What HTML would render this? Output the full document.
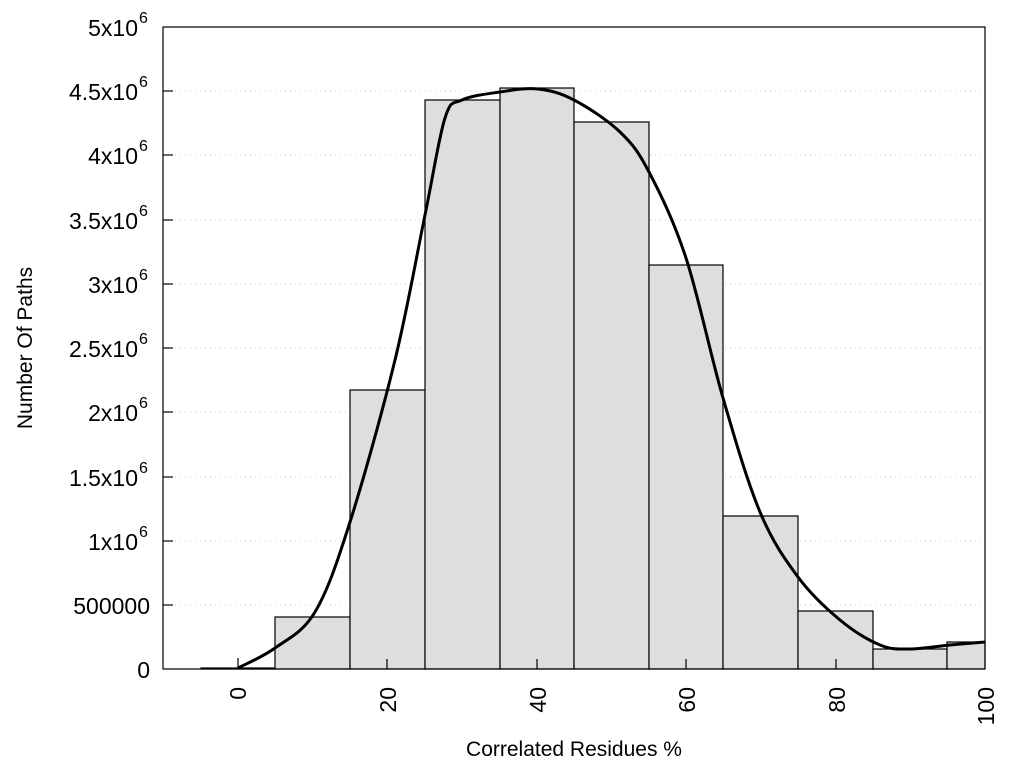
<!DOCTYPE html>
<html><head><meta charset="utf-8"><style>
body{margin:0;background:#fff;}
svg{display:block;font-family:"Liberation Sans",sans-serif;}
</style></head><body>
<svg id="s" width="1024" height="768" viewBox="0 0 1024 768">
<g stroke="#c8c8c8" stroke-dasharray="1,4" stroke-width="1">
<line x1="175" y1="605" x2="985" y2="605"/><line x1="175" y1="541" x2="985" y2="541"/>
<line x1="175" y1="477" x2="985" y2="477"/><line x1="175" y1="412" x2="985" y2="412"/>
<line x1="175" y1="348" x2="985" y2="348"/><line x1="175" y1="284" x2="985" y2="284"/>
<line x1="175" y1="220" x2="985" y2="220"/><line x1="175" y1="155" x2="985" y2="155"/>
<line x1="175" y1="91" x2="985" y2="91"/>
</g>
<g fill="#dedede" stroke="#000" stroke-width="1.2">
<rect x="201" y="668" width="74" height="1"/>
<rect x="275" y="617" width="75" height="52"/>
<rect x="350" y="390" width="75" height="279"/>
<rect x="425" y="100" width="75" height="569"/>
<rect x="500" y="88" width="74" height="581"/>
<rect x="574" y="122" width="75" height="547"/>
<rect x="649" y="265" width="74" height="404"/>
<rect x="723" y="516" width="75" height="153"/>
<rect x="798" y="611" width="75" height="58"/>
<rect x="873" y="649" width="74" height="20"/>
<rect x="947" y="642" width="38" height="27"/>
</g>
<path id="c" fill="none" stroke="#000" stroke-width="3" d=""/>
<rect x="163" y="27" width="822" height="642" fill="none" stroke="#000" stroke-width="1.2"/>
<g stroke="#000" stroke-width="1.2">
<line x1="163" y1="605" x2="173" y2="605"/><line x1="163" y1="541" x2="173" y2="541"/>
<line x1="163" y1="477" x2="173" y2="477"/><line x1="163" y1="412" x2="173" y2="412"/>
<line x1="163" y1="348" x2="173" y2="348"/><line x1="163" y1="284" x2="173" y2="284"/>
<line x1="163" y1="220" x2="173" y2="220"/><line x1="163" y1="155" x2="173" y2="155"/>
<line x1="163" y1="91" x2="173" y2="91"/>
<line x1="238" y1="669" x2="238" y2="658"/><line x1="387" y1="669" x2="387" y2="659"/>
<line x1="537" y1="669" x2="537" y2="659"/><line x1="686" y1="669" x2="686" y2="659"/>
<line x1="836" y1="669" x2="836" y2="659"/>
</g>
<g font-size="23" text-anchor="end" fill="#000">
<text x="150" y="678">0</text>
<text x="150" y="614">500000</text>
<text x="138" y="550">1x10</text><text x="138" y="486">1.5x10</text>
<text x="138" y="421">2x10</text><text x="138" y="357">2.5x10</text>
<text x="138" y="293">3x10</text><text x="138" y="229">3.5x10</text>
<text x="138" y="164">4x10</text><text x="138" y="100">4.5x10</text>
<text x="138" y="36">5x10</text>
</g>
<g font-size="16" fill="#000">
<text x="139" y="537">6</text><text x="139" y="473">6</text><text x="139" y="408">6</text>
<text x="139" y="344">6</text><text x="139" y="280">6</text><text x="139" y="216">6</text>
<text x="139" y="151">6</text><text x="139" y="87">6</text><text x="139" y="23">6</text>
</g>
<g font-size="23" text-anchor="end" fill="#000">
<text transform="translate(246,687) rotate(-90)">0</text>
<text transform="translate(396,687) rotate(-90)">20</text>
<text transform="translate(546,687) rotate(-90)">40</text>
<text transform="translate(695,687) rotate(-90)">60</text>
<text transform="translate(845,687) rotate(-90)">80</text>
<text transform="translate(994,687) rotate(-90)">100</text>
</g>
<text x="574" y="756" font-size="21" text-anchor="middle">Correlated Residues %</text>
<text transform="translate(32,348) rotate(-90)" font-size="21" text-anchor="middle">Number Of Paths</text>
</svg>
<script>
var p=[[238,668],[275,648],[315,612],[350,522],[395,360],[425,215],[445,118],[462,100],[500,92],[538,89],[574,100],[620,132],[649,172],[686,258],[723,398],[760,512],[798,577],[840,620],[880,645],[910,649],[950,645],[985,642]];
var d="M"+p[0];
for(var i=0;i<p.length-1;i++){var a=p[Math.max(i-1,0)],b=p[i],c=p[i+1],e=p[Math.min(i+2,p.length-1)];
d+=" C"+(b[0]+(c[0]-a[0])/6)+","+(b[1]+(c[1]-a[1])/6)+" "+(c[0]-(e[0]-b[0])/6)+","+(c[1]-(e[1]-b[1])/6)+" "+c;}
document.getElementById("c").setAttribute("d",d);
</script>
</body></html>
